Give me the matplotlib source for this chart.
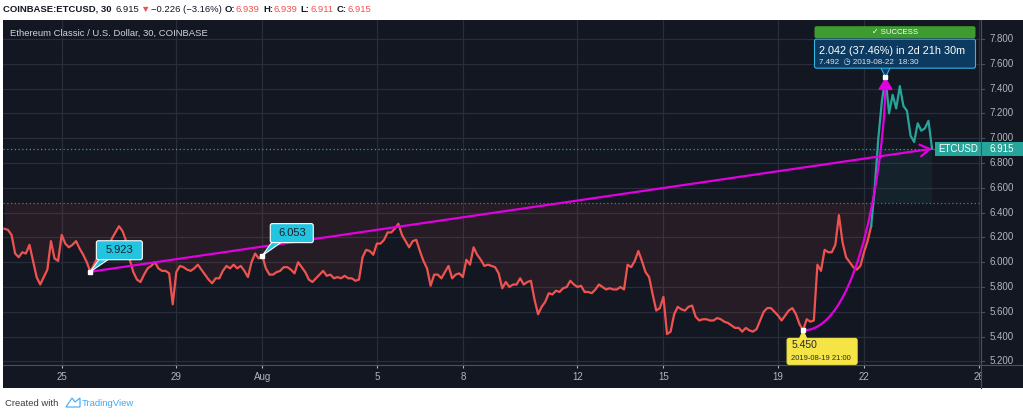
import numpy as np
import pandas as pd
import matplotlib
matplotlib.use('Agg')
import matplotlib.pyplot as plt
import matplotlib.dates as mdates
import matplotlib.transforms as mtransforms
from matplotlib.patches import Rectangle, FancyBboxPatch, Polygon, FancyArrowPatch
from matplotlib.lines import Line2D
from matplotlib.path import Path

plt.rcParams['font.family'] = ['Liberation Sans', 'DejaVu Sans']

start = '2019-07-23 00:00'
prices = np.array([
    6.27, 6.26, 6.22, 6.07, 6.04, 6.08, 6.07, 6.14, 6.01, 5.88,
    5.82, 5.88, 5.94, 6.17, 6.03, 6.01, 6.22, 6.15, 6.12, 6.14,
    6.17, 6.11, 6.06, 6.00, 5.923, 5.98, 6.04, 6.07, 6.05, 6.12,
    6.19, 6.24, 6.29, 6.25, 6.17, 6.02, 5.92, 5.86, 5.84, 5.90,
    5.95, 5.97, 6.00, 5.95, 5.93, 5.93, 5.91, 5.66, 5.92, 5.97,
    5.96, 5.94, 5.93, 5.95, 5.98, 5.94, 5.90, 5.86, 5.83, 5.87,
    5.87, 5.93, 5.97, 5.95, 5.98, 5.95, 5.97, 5.93, 5.88, 6.00,
    6.07, 6.03, 6.053, 5.95, 5.90, 5.90, 5.92, 5.93, 5.96, 5.96,
    5.94, 5.91, 6.00, 5.96, 5.92, 5.86, 5.84, 5.87, 5.90, 5.93,
    5.89, 5.90, 5.87, 5.88, 5.87, 5.89, 5.87, 5.87, 5.85, 5.86,
    6.04, 6.10, 6.09, 6.06, 6.15, 6.15, 6.18, 6.24, 6.24, 6.27,
    6.31, 6.22, 6.17, 6.12, 6.17, 6.18, 6.09, 6.01, 5.95, 5.81,
    5.90, 5.90, 5.87, 5.92, 5.97, 5.87, 5.90, 5.91, 5.88, 6.02,
    5.98, 6.12, 6.06, 6.02, 5.97, 5.98, 5.97, 5.96, 5.91, 5.79,
    5.84, 5.80, 5.82, 5.82, 5.87, 5.82, 5.84, 5.85, 5.70, 5.58,
    5.64, 5.68, 5.75, 5.74, 5.77, 5.76, 5.79, 5.80, 5.85, 5.82,
    5.80, 5.81, 5.76, 5.76, 5.75, 5.78, 5.82, 5.80, 5.78, 5.79,
    5.78, 5.78, 5.80, 5.78, 5.98, 5.96, 6.01, 6.09, 6.01, 5.92,
    5.88, 5.74, 5.61, 5.63, 5.72, 5.42, 5.44, 5.58, 5.64, 5.62,
    5.61, 5.64, 5.65, 5.56, 5.53, 5.54, 5.54, 5.53, 5.53, 5.55,
    5.54, 5.52, 5.51, 5.49, 5.47, 5.47, 5.44, 5.47, 5.45, 5.44,
    5.46, 5.53, 5.60, 5.63, 5.63, 5.60, 5.57, 5.53, 5.57, 5.61,
    5.63, 5.58, 5.50, 5.450, 5.54, 5.52, 5.53, 5.98, 5.93, 6.10,
    6.08, 6.08, 6.14, 6.38, 6.16, 6.04, 6.00, 5.96, 5.94, 5.97,
    6.08, 6.17, 6.29, 6.60, 7.00, 7.30, 7.492, 7.20, 7.35, 7.24,
    7.42, 7.26, 7.22, 7.02, 6.97, 7.12, 7.06, 7.08, 7.14, 6.915,
])

split_idx = 242        # line turns teal from here on
base_level = 6.48      # grey dotted level
last_price = 6.915
ohlc = [6.939, 6.939, 6.911, 6.915]
change, change_pct = -0.226, -3.16
gain, gain_pct = 2.042, 37.46

mark1 = (24, 5.923)
mark2 = (72, 6.053)
low_mark = (223, 5.450)
peak_mark = (246, 7.492)

tick_days = ['2019-07-25', '2019-07-29', '2019-08-01', '2019-08-05', '2019-08-08',
             '2019-08-12', '2019-08-15', '2019-08-19', '2019-08-22', '2019-08-26']
tick_labels = ['25', '29', 'Aug', '5', '8', '12', '15', '19', '22', '26']
price_ticks = [5.2, 5.4, 5.6, 5.8, 6.0, 6.2, 6.4, 6.6, 6.8, 7.0, 7.2, 7.4, 7.6, 7.8]

BG = '#131722'
GRID = '#2a2e3a'
SEP = '#4c505b'
RED = '#ef5350'
TEAL = '#26a69a'
MAG = '#e000e0'
TXT = '#b2b5be'
CYAN = '#22c4df'

W, H = 1023, 417
fig = plt.figure(figsize=(W / 100, H / 100), dpi=100, facecolor='white')
ident = mtransforms.IdentityTransform()

# dark chart panel
fig.add_artist(Rectangle((3, 29), 1020, 368, transform=ident, fc=BG, ec='none', zorder=-1))

ax = fig.add_axes([3 / W, 52 / H, 978 / W, 345 / H], facecolor=BG)
t = mdates.date2num(pd.date_range(start, periods=len(prices), freq='3h'))
ax.set_xlim(mdates.date2num(pd.Timestamp('2019-07-22 22:50')),
            mdates.date2num(pd.Timestamp('2019-08-26 02:00')))
ymin, ymax = 5.171, 7.953
ax.set_ylim(ymin, ymax)
ppu = 345 / (ymax - ymin)   # pixels per dollar

for s in ax.spines.values():
    s.set_visible(False)
ax.set_yticks(price_ticks)
ax.tick_params(axis='y', left=False, labelleft=False)
ax.set_xticks(mdates.date2num(pd.to_datetime(tick_days)), tick_labels)
ax.tick_params(axis='x', colors=TXT, labelsize=7, length=2, pad=3)
ax.grid(True, color=GRID, lw=0.9)
ax.set_axisbelow(True)

# shaded zones and level lines
ax.fill_between(t[:split_idx + 1], prices[:split_idx + 1], base_level,
                color=RED, alpha=0.09, lw=0)
ax.fill_between(t[split_idx:], base_level, last_price, color=TEAL, alpha=0.08, lw=0)
ax.axhline(base_level, color='#6b6e79', ls=(0, (1, 2)), lw=0.9)
ax.axhline(last_price, color=TEAL, ls=(0, (1, 2)), lw=0.9)

# price line
ax.plot(t[:split_idx + 1], prices[:split_idx + 1], color=RED, lw=1.6, zorder=3)
ax.plot(t[split_idx:], prices[split_idx:], color=TEAL, lw=1.6, zorder=3)

ax.text(0.007, 0.962, 'Ethereum Classic / U.S. Dollar, 30, COINBASE', transform=ax.transAxes,
        color='#d1d4dc', fontsize=6.8, va='center')

# trend arrow to last price
ax.add_patch(FancyArrowPatch((t[mark1[0]], mark1[1]), (t[-1], last_price),
                             arrowstyle='->,head_length=0.5,head_width=0.3', mutation_scale=14,
                             color=MAG, lw=1.6, shrinkA=0, shrinkB=0, zorder=5))

# curved arrow from the low to the peak
x0, y0 = t[low_mark[0]], low_mark[1]
x3, y3 = t[peak_mark[0]], peak_mark[1]
curve = Path([(x0, y0), (x0 + 0.7 * (x3 - x0), y0), (x3, y3 - 0.3 * (y3 - y0)), (x3, y3)],
             [Path.MOVETO, Path.CURVE4, Path.CURVE4, Path.CURVE4])
ax.add_patch(FancyArrowPatch(path=curve, arrowstyle='-|>,head_length=0.5,head_width=0.3',
                             mutation_scale=14, color=MAG, lw=1.6, zorder=5))

for i, v in [mark1, mark2, low_mark, peak_mark]:
    ax.plot([t[i]], [v], 's', color='white', ms=2.6, zorder=9)


def callout(i, v, box, tail, fc, ec, lines, lw=0.8):
    px, py = ax.transData.transform((t[i], v))
    bx, by, bw, bh = box
    ax.add_patch(Polygon([(px, py)] + [(px + a, py + b) for a, b in tail], closed=True,
                         fc=fc, ec=ec, lw=lw, transform=ident, zorder=6))
    ax.add_patch(FancyBboxPatch((px + bx, py + by), bw, bh, boxstyle='round,pad=0,rounding_size=2',
                                fc=fc, ec=ec, lw=lw, transform=ident, zorder=7))
    for tx, ty, s, size, color, ha in lines:
        ax.text(px + tx, py + ty, s, fontsize=size, color=color, ha=ha, va='center',
                transform=ident, zorder=8)
    return px, py


callout(*mark1, (6, 12, 46, 19), [(9, 13), (19, 13)], CYAN, 'white',
        [(29, 21.5, f'{mark1[1]:.3f}', 8, '#1b1f2b', 'center')])
callout(*mark2, (8, 13, 43, 19), [(10, 14), (20, 14)], CYAN, 'white',
        [(29.5, 22.5, f'{mark2[1]:.3f}', 8, '#1b1f2b', 'center')])
callout(*low_mark, (-16, -34, 70, 26), [(-4, -9), (4, -9)], '#f4e445', '#f4e445',
        [(-12, -15, f'{low_mark[1]:.3f}', 7.5, '#2a2a2a', 'left'),
         (-12, -28, '2019-08-19 21:00', 5.5, '#2a2a2a', 'left')])

# peak measurement callout
px, py = callout(*peak_mark, (-71, 9, 161, 29), [(-5, 10), (5, 10)], '#0c3a60', '#2db5e6',
                 [(-66, 26, f'{gain:.3f} ({gain_pct:.2f}%) in 2d 21h 30m', 7.8, 'white', 'left'),
                  (-66, 15, f'{peak_mark[1]:.3f}  \u25F7 2019-08-22  18:30', 5.8, '#dfe6ee', 'left')])
ax.add_patch(FancyBboxPatch((px - 71, py + 39), 161, 12, boxstyle='round,pad=0,rounding_size=2',
                            fc='#3d9b2f', ec='none', transform=ident, zorder=7))
ax.text(px + 9.5, py + 45, '\u2713 SUCCESS', fontsize=5.6, color='white', ha='center', va='center',
        transform=ident, zorder=8)

# ETCUSD tag inside the plot
blend = mtransforms.blended_transform_factory(ax.transAxes, ax.transData)
ax.add_patch(Rectangle(((935 - 3) / 978, last_price - 7 / ppu), 46 / 978, 14 / ppu,
                       transform=blend, fc=TEAL, ec='none', zorder=7))
ax.text((958 - 3) / 978, last_price, 'ETCUSD', transform=blend, color='white', fontsize=7,
        ha='center', va='center', zorder=8)

# price scale on the right
axp = fig.add_axes([981 / W, 29 / H, 42 / W, 368 / H], facecolor=BG, zorder=3)
axp.set_xlim(0, 1)
axp.set_ylim(ymin - 23 / ppu, ymax)
axp.set_xticks([])
axp.set_yticks([])
for s in axp.spines.values():
    s.set_visible(False)
for v in price_ticks:
    axp.plot([0, 0.08], [v, v], color=SEP, lw=0.8)
    axp.text(0.2, v, f'{v:.3f}', color=TXT, fontsize=7, va='center')
axp.add_patch(Rectangle((0, last_price - 7 / ppu), 1, 14 / ppu, fc=TEAL, ec='none', zorder=4))
axp.text(0.2, last_price, f'{last_price:.3f}', color='white', fontsize=7, va='center', zorder=5)

# separators
fig.add_artist(Line2D([981, 981], [29, 397], transform=ident, color=SEP, lw=0.8, zorder=5))
fig.add_artist(Line2D([3, 1023], [52, 52], transform=ident, color=SEP, lw=0.8, zorder=5))

# header line
renderer = fig.canvas.get_renderer()
header = [
    ('COINBASE:ETCUSD, 30', '#131722', 'bold', 4),
    (f'{ohlc[3]:.3f}', '#131722', 'normal', 1),
    ('\u25BC', RED, 'normal', 1),
    (f'\u2212{abs(change):.3f} (\u2212{abs(change_pct):.2f}%)', '#131722', 'normal', 3),
    ('O:', '#131722', 'bold', 1), (f'{ohlc[0]:.3f}', RED, 'normal', 3),
    ('H:', '#131722', 'bold', 1), (f'{ohlc[1]:.3f}', RED, 'normal', 3),
    ('L:', '#131722', 'bold', 1), (f'{ohlc[2]:.3f}', RED, 'normal', 3),
    ('C:', '#131722', 'bold', 1), (f'{ohlc[3]:.3f}', RED, 'normal', 3),
]
x = 3
for s, c, wgt, gap in header:
    txt = fig.text(x, H - 9, s, color=c, fontsize=6.8, fontweight=wgt, va='center', transform=ident)
    x = txt.get_window_extent(renderer).x1 + gap

# footer
fig.text(5, 14, 'Created with', color='#3c3c3c', fontsize=6.8, va='center', transform=ident)
fig.add_artist(Polygon([(66, 10), (72, 19), (75, 15), (80, 19), (80, 10)], closed=True,
                       transform=ident, fc='none', ec='#3fa9f5', lw=0.8))
fig.text(82, 14, 'TradingView', color='#3fa9f5', fontsize=6.8, va='center', transform=ident)

fig.savefig('out.png', dpi=100, facecolor='white')
